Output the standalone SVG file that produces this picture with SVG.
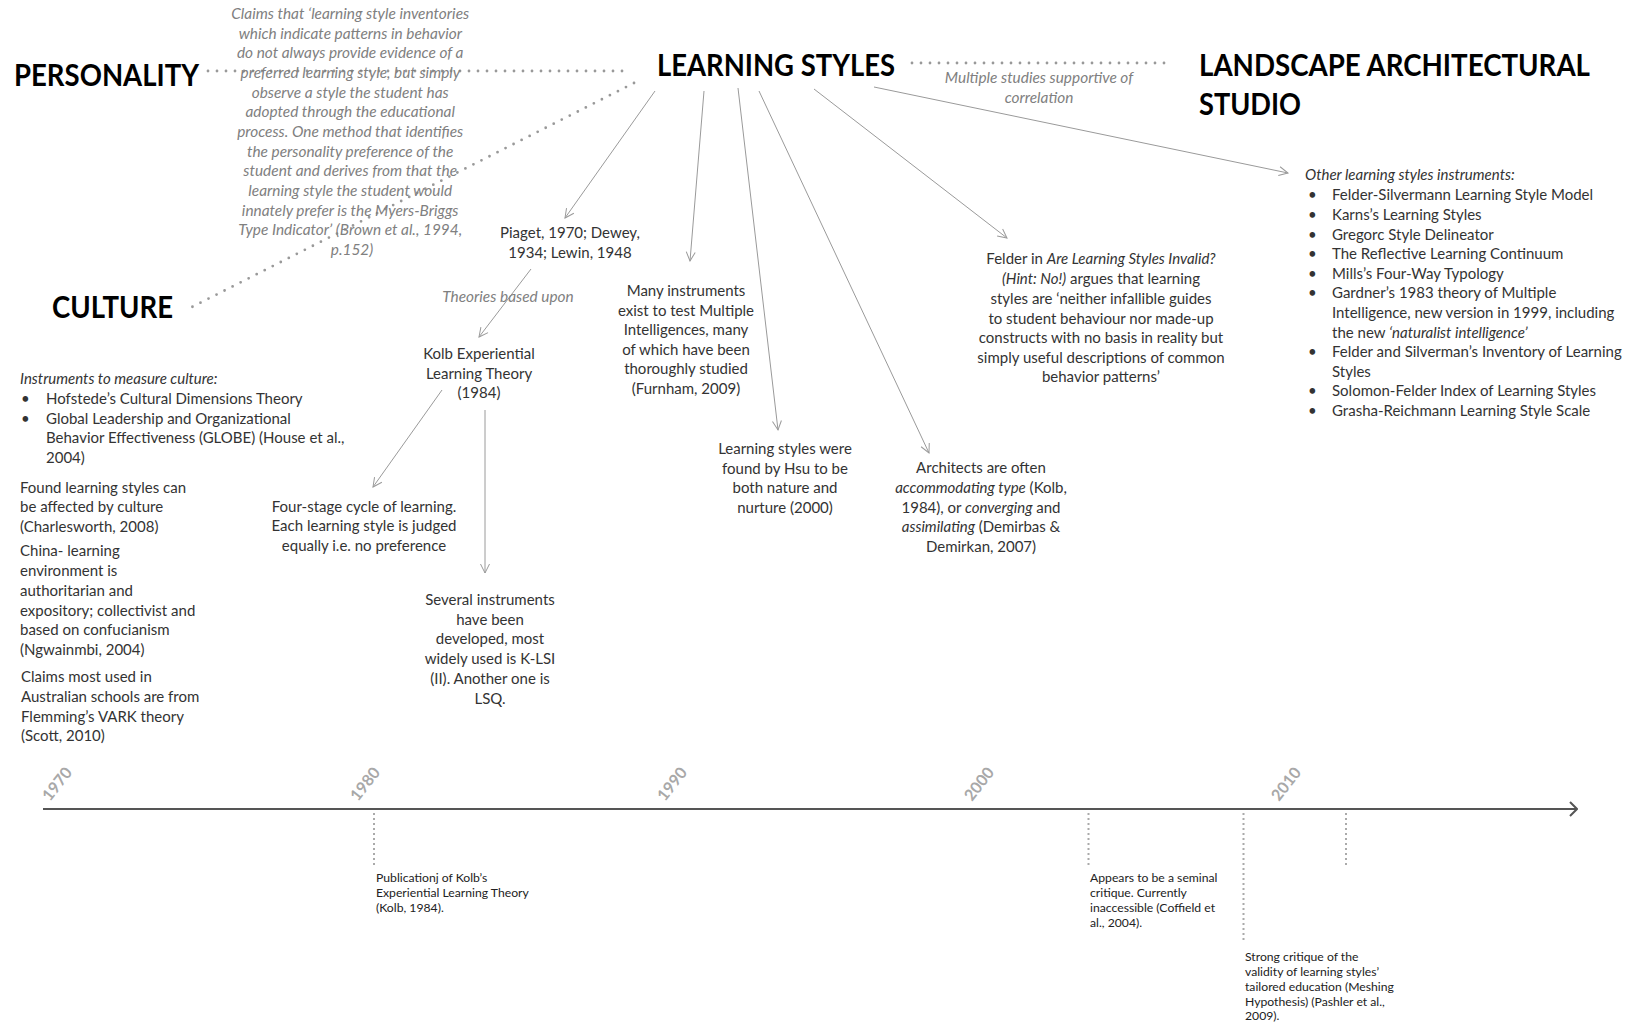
<svg xmlns="http://www.w3.org/2000/svg" width="1625" height="1025" viewBox="0 0 1625 1025">
<defs>
<style>
text{font-family:Lato,"Open Sans","Liberation Sans",sans-serif;}
.title{font-size:30px;font-weight:bold;fill:#000;}
.body{font-size:15px;fill:#333;}
.note{font-size:15.4px;font-style:italic;fill:#808080;}
.small{font-size:12.2px;fill:#222;}
.year{font-size:16px;font-weight:bold;fill:#a8a8a8;}
.c{text-anchor:middle;}
.it{font-style:italic;}
.arrow{stroke:#9a9a9a;stroke-width:1;fill:none;marker-end:url(#ah);}
.dots{stroke:#999;stroke-width:2.8;stroke-linecap:round;stroke-dasharray:0 9;fill:none;}
.vdots{stroke:#aaa;stroke-width:2;stroke-dasharray:2 3;fill:none;}
</style>
<marker id="ah" viewBox="-11 -6 12 12" markerWidth="12" markerHeight="12" markerUnits="userSpaceOnUse" refX="0" refY="0" orient="auto">
<path d="M-9,-4.5 L0,0 L-9,4.5" stroke="#9a9a9a" stroke-width="1" fill="none"/>
</marker>
<marker id="tl" viewBox="-11 -9 12 18" markerWidth="12" markerHeight="18" markerUnits="userSpaceOnUse" refX="0" refY="0" orient="auto">
<path d="M-7,-7 L0,0 L-7,7" stroke="#555" stroke-width="2" fill="none"/>
</marker>
</defs>
<rect width="1625" height="1025" fill="#fff"/>

<g id="connectors">
<line class="dots" x1="208" y1="71" x2="630" y2="71"/>
<line class="dots" x1="634" y1="83" x2="190" y2="308"/>
<line class="dots" x1="912" y1="63" x2="1166" y2="63"/>
<line class="arrow" x1="655" y1="91" x2="565" y2="218"/>
<line class="arrow" x1="704" y1="91" x2="690" y2="261"/>
<line class="arrow" x1="738" y1="88" x2="778" y2="430"/>
<line class="arrow" x1="759" y1="91" x2="929" y2="453"/>
<line class="arrow" x1="814" y1="89" x2="1007" y2="238"/>
<line class="arrow" x1="874" y1="87" x2="1288" y2="173"/>
<line class="arrow" x1="531" y1="269" x2="479" y2="337"/>
<line class="arrow" x1="442" y1="390" x2="373" y2="487"/>
<line class="arrow" x1="485" y1="410" x2="485" y2="573"/>
</g>

<g id="quote">
<text class="note c">
<tspan x="352" y="19">Claims that ‘learning style inventories</tspan>
<tspan x="352" y="38.7">which indicate patterns in behavior</tspan>
<tspan x="352" y="58.3">do not always provide evidence of a</tspan>
<tspan x="352" y="78">preferred learning style, but simply</tspan>
<tspan x="352" y="97.7">observe a style the student has</tspan>
<tspan x="352" y="117.3">adopted through the educational</tspan>
<tspan x="352" y="137">process. One method that identifies</tspan>
<tspan x="352" y="156.7">the personality preference of the</tspan>
<tspan x="352" y="176.3">student and derives from that the</tspan>
<tspan x="352" y="196">learning style the student would</tspan>
<tspan x="352" y="215.7">innately prefer is the Myers-Briggs</tspan>
<tspan x="352" y="235.3">Type Indicator’ (Brown et al., 1994,</tspan>
<tspan x="352" y="255">p.152)</tspan>
</text>
</g>

<g id="personality"><text class="title" x="14" y="86" textLength="185" lengthAdjust="spacingAndGlyphs">PERSONALITY</text></g>
<g id="culture"><text class="title" x="52" y="318" textLength="121" lengthAdjust="spacingAndGlyphs">CULTURE</text></g>
<g id="learning-styles"><text class="title" x="657" y="76" textLength="238" lengthAdjust="spacingAndGlyphs">LEARNING STYLES</text></g>
<g id="landscape"><text class="title" x="1199" y="76" textLength="391" lengthAdjust="spacingAndGlyphs">LANDSCAPE ARCHITECTURAL</text><text class="title" x="1199" y="115" textLength="102" lengthAdjust="spacingAndGlyphs">STUDIO</text></g>

<g id="correlation-label"><text class="note c"><tspan x="1039" y="83">Multiple studies supportive of</tspan><tspan x="1039" y="103">correlation</tspan></text></g>
<g id="theories-label"><text class="note c" x="508" y="302">Theories based upon</text></g>

<g id="piaget"><text class="body c"><tspan x="570" y="238">Piaget, 1970; Dewey,</tspan><tspan x="570" y="258">1934; Lewin, 1948</tspan></text></g>
<g id="kolb"><text class="body c"><tspan x="479" y="359">Kolb Experiential</tspan><tspan x="479" y="379">Learning Theory</tspan><tspan x="479" y="398">(1984)</tspan></text></g>
<g id="four-stage"><text class="body c"><tspan x="364" y="512">Four-stage cycle of learning.</tspan><tspan x="364" y="531">Each learning style is judged</tspan><tspan x="364" y="551">equally i.e. no preference</tspan></text></g>
<g id="several"><text class="body c"><tspan x="490" y="605">Several instruments</tspan><tspan x="490" y="625">have been</tspan><tspan x="490" y="644">developed, most</tspan><tspan x="490" y="664">widely used is K-LSI</tspan><tspan x="490" y="684">(II). Another one is</tspan><tspan x="490" y="704">LSQ.</tspan></text></g>
<g id="many"><text class="body c"><tspan x="686" y="296">Many instruments</tspan><tspan x="686" y="316">exist to test Multiple</tspan><tspan x="686" y="335">Intelligences, many</tspan><tspan x="686" y="355">of which have been</tspan><tspan x="686" y="374">thoroughly studied</tspan><tspan x="686" y="394">(Furnham, 2009)</tspan></text></g>
<g id="hsu"><text class="body c"><tspan x="785" y="454">Learning styles were</tspan><tspan x="785" y="474">found by Hsu to be</tspan><tspan x="785" y="493">both nature and</tspan><tspan x="785" y="513">nurture (2000)</tspan></text></g>
<g id="architects"><text class="body c"><tspan x="981" y="473">Architects are often</tspan><tspan x="981" y="493"><tspan class="it">accommodating type</tspan> (Kolb,</tspan><tspan x="981" y="513">1984), or <tspan class="it">converging</tspan> and</tspan><tspan x="981" y="532"><tspan class="it">assimilating</tspan> (Demirbas &amp;</tspan><tspan x="981" y="552">Demirkan, 2007)</tspan></text></g>
<g id="felder"><text class="body c"><tspan x="1101" y="264">Felder in <tspan class="it">Are Learning Styles Invalid?</tspan></tspan><tspan x="1101" y="284"><tspan class="it">(Hint: No!)</tspan> argues that learning</tspan><tspan x="1101" y="304">styles are ‘neither infallible guides</tspan><tspan x="1101" y="324">to student behaviour nor made-up</tspan><tspan x="1101" y="343">constructs with no basis in reality but</tspan><tspan x="1101" y="363">simply useful descriptions of common</tspan><tspan x="1101" y="382">behavior patterns’</tspan></text></g>

<g id="culture-notes">
<text class="body it" x="20" y="384">Instruments to measure culture:</text>
<text class="body"><tspan x="21" y="404">•</tspan><tspan x="46" y="404">Hofstede’s Cultural Dimensions Theory</tspan><tspan x="21" y="424">•</tspan><tspan x="46" y="424">Global Leadership and Organizational</tspan><tspan x="46" y="443">Behavior Effectiveness (GLOBE) (House et al.,</tspan><tspan x="46" y="463">2004)</tspan></text>
<text class="body"><tspan x="20" y="493">Found learning styles can</tspan><tspan x="20" y="512">be affected by culture</tspan><tspan x="20" y="532">(Charlesworth, 2008)</tspan></text>
<text class="body"><tspan x="20" y="556">China- learning</tspan><tspan x="20" y="576">environment is</tspan><tspan x="20" y="596">authoritarian and</tspan><tspan x="20" y="616">expository; collectivist and</tspan><tspan x="20" y="635">based on confucianism</tspan><tspan x="20" y="655">(Ngwainmbi, 2004)</tspan></text>
<text class="body"><tspan x="21" y="682">Claims most used in</tspan><tspan x="21" y="702">Australian schools are from</tspan><tspan x="21" y="722">Flemming’s VARK theory</tspan><tspan x="21" y="741">(Scott, 2010)</tspan></text>
</g>

<g id="instruments-list">
<text class="body it" x="1305" y="180">Other learning styles instruments:</text>
<text class="body">
<tspan x="1308" y="200">•</tspan><tspan x="1332" y="200">Felder-Silvermann Learning Style Model</tspan>
<tspan x="1308" y="220">•</tspan><tspan x="1332" y="220">Karns’s Learning Styles</tspan>
<tspan x="1308" y="240">•</tspan><tspan x="1332" y="240">Gregorc Style Delineator</tspan>
<tspan x="1308" y="259">•</tspan><tspan x="1332" y="259">The Reflective Learning Continuum</tspan>
<tspan x="1308" y="279">•</tspan><tspan x="1332" y="279">Mills’s Four-Way Typology</tspan>
<tspan x="1308" y="298">•</tspan><tspan x="1332" y="298">Gardner’s 1983 theory of Multiple</tspan>
<tspan x="1332" y="318">Intelligence, new version in 1999, including</tspan>
<tspan x="1332" y="338">the new <tspan class="it">‘naturalist intelligence’</tspan></tspan>
<tspan x="1308" y="357">•</tspan><tspan x="1332" y="357">Felder and Silverman’s Inventory of Learning</tspan>
<tspan x="1332" y="377">Styles</tspan>
<tspan x="1308" y="396">•</tspan><tspan x="1332" y="396">Solomon-Felder Index of Learning Styles</tspan>
<tspan x="1308" y="416">•</tspan><tspan x="1332" y="416">Grasha-Reichmann Learning Style Scale</tspan>
</text>
</g>

<g id="timeline">
<line x1="43" y1="809" x2="1577" y2="809" stroke="#555" stroke-width="2.2" marker-end="url(#tl)"/>
<text class="year" transform="translate(50,802) rotate(-52)">1970</text>
<text class="year" transform="translate(358,802) rotate(-52)">1980</text>
<text class="year" transform="translate(665,802) rotate(-52)">1990</text>
<text class="year" transform="translate(972,802) rotate(-52)">2000</text>
<text class="year" transform="translate(1279,802) rotate(-52)">2010</text>
<line class="vdots" x1="374" y1="813" x2="374" y2="866"/>
<line class="vdots" x1="1088.5" y1="813" x2="1088.5" y2="866"/>
<line class="vdots" x1="1243.5" y1="813" x2="1243.5" y2="940"/>
<line class="vdots" x1="1346" y1="813" x2="1346" y2="866"/>
</g>
<g id="event-1984"><text class="small"><tspan x="376" y="882">Publicationj of Kolb’s</tspan><tspan x="376" y="897">Experiential Learning Theory</tspan><tspan x="376" y="912">(Kolb, 1984).</tspan></text></g>
<g id="event-2004"><text class="small"><tspan x="1090" y="882">Appears to be a seminal</tspan><tspan x="1090" y="897">critique. Currently</tspan><tspan x="1090" y="912">inaccessible (Coffield et</tspan><tspan x="1090" y="927">al., 2004).</tspan></text></g>
<g id="event-2009"><text class="small"><tspan x="1245" y="961">Strong critique of the</tspan><tspan x="1245" y="976">validity of learning styles’</tspan><tspan x="1245" y="991">tailored education (Meshing</tspan><tspan x="1245" y="1006">Hypothesis) (Pashler et al.,</tspan><tspan x="1245" y="1020">2009).</tspan></text></g>
</svg>
